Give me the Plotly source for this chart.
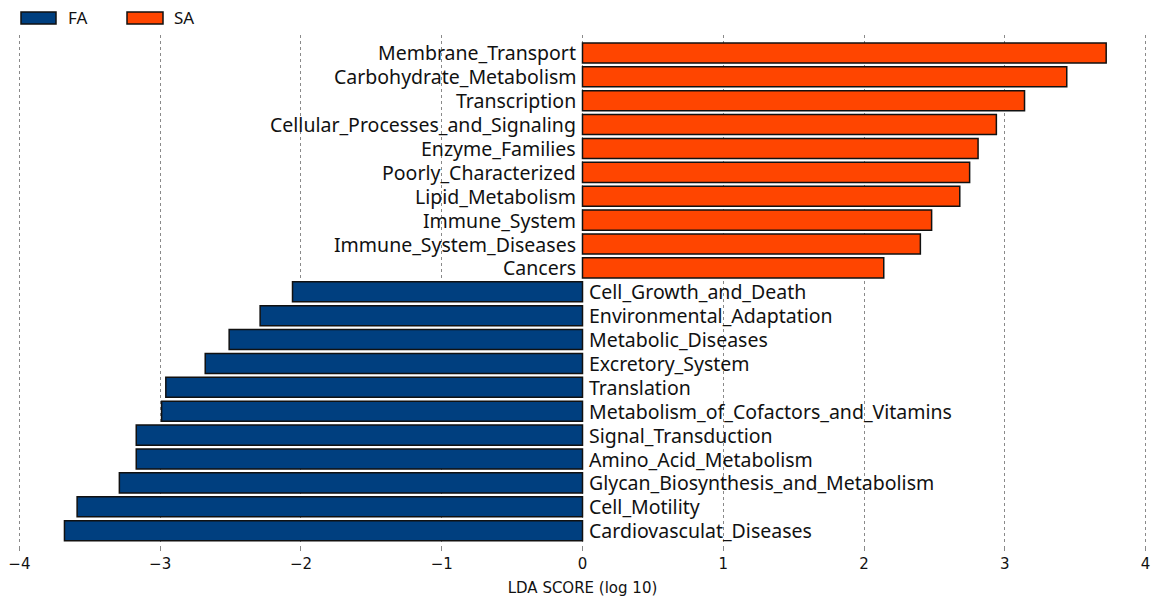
import plotly.graph_objects as go

categories = [
    "Membrane_Transport", "Carbohydrate_Metabolism", "Transcription",
    "Cellular_Processes_and_Signaling", "Enzyme_Families", "Poorly_Characterized",
    "Lipid_Metabolism", "Immune_System", "Immune_System_Diseases", "Cancers",
    "Cell_Growth_and_Death", "Environmental_Adaptation", "Metabolic_Diseases",
    "Excretory_System", "Translation", "Metabolism_of_Cofactors_and_Vitamins",
    "Signal_Transduction", "Amino_Acid_Metabolism", "Glycan_Biosynthesis_and_Metabolism",
    "Cell_Motility", "Cardiovasculat_Diseases",
]
lda_scores = [
    3.72, 3.44, 3.14, 2.94, 2.81, 2.75, 2.68, 2.48, 2.40, 2.14,
    -2.06, -2.29, -2.51, -2.68, -2.96, -2.99, -3.17, -3.17, -3.29, -3.59, -3.68,
]
groups = ["SA"] * 10 + ["FA"] * 11
group_colors = {"FA": "#003f7f", "SA": "#ff4500"}
x_ticks = [-4, -3, -2, -1, 0, 1, 2, 3, 4]
x_tick_labels = ["\u22124", "\u22123", "\u22122", "\u22121", "0", "1", "2", "3", "4"]

fig = go.Figure()
for g in ["FA", "SA"]:
    ys = [c for c, gg in zip(categories, groups) if gg == g]
    xs = [v for v, gg in zip(lda_scores, groups) if gg == g]
    fig.add_trace(go.Bar(
        x=xs, y=ys, orientation="h", name=g,
        marker=dict(color=group_colors[g], line=dict(color="#111111", width=1.5)),
        width=0.84, showlegend=False,
    ))

label_font = dict(family="Noto Sans", size=19.5, color="#111111")
for c, v in zip(categories, lda_scores):
    fig.add_annotation(
        x=0, y=c, xref="x", yref="y", text=c, showarrow=False,
        xanchor="right" if v > 0 else "left", xshift=-5 if v > 0 else 4,
        font=label_font,
    )

W, H = 1152, 598
L, R, T, B = 18, 5, 35, 53
pw = W - L - R
ph = H - T - B
def px_x(p):
    return (p - L) / pw
def px_y(p):
    return (H - B - p) / ph
legend_items = [("FA", 21, 56, 66), ("SA", 127, 163, 172)]
for name, x0, x1, tx in legend_items:
    fig.add_shape(type="rect", xref="paper", yref="paper",
                  x0=px_x(x0), x1=px_x(x1), y0=px_y(24), y1=px_y(12),
                  fillcolor=group_colors[name], line=dict(color="#111111", width=1.5))
    fig.add_annotation(xref="paper", yref="paper", x=px_x(tx), y=px_y(18),
                       text=name, showarrow=False, xanchor="left", yanchor="middle",
                       font=dict(family="Noto Sans", size=17, color="#111111"))

fig.update_xaxes(
    range=[-4.01, 4.01], tickvals=x_ticks, ticktext=x_tick_labels,
    showgrid=True, gridcolor="#8a8a8a", griddash="dot", gridwidth=1,
    zeroline=False, showline=False, automargin=False, ticklabeloverflow="allow",
    ticks="outside", ticklen=5, tickcolor="#8a8a8a",
    tickfont=dict(family="DejaVu Sans", size=15, color="#111111"),
    title=dict(text="LDA SCORE (log 10)", font=dict(family="DejaVu Sans", size=15, color="#111111"), standoff=10),
)
fig.update_yaxes(
    categoryorder="array", categoryarray=categories, automargin=False,
    range=[20.6, -0.75], showticklabels=False, showgrid=False,
    zeroline=False, showline=False, ticks="",
)
fig.update_layout(
    width=W, height=H,
    margin=dict(l=L, r=R, t=T, b=B),
    plot_bgcolor="white", paper_bgcolor="white",
    barmode="overlay", bargap=0.16,
)
fig.write_html("out.html", config={"displayModeBar": False},
               post_script="document.body.style.margin='0';")
